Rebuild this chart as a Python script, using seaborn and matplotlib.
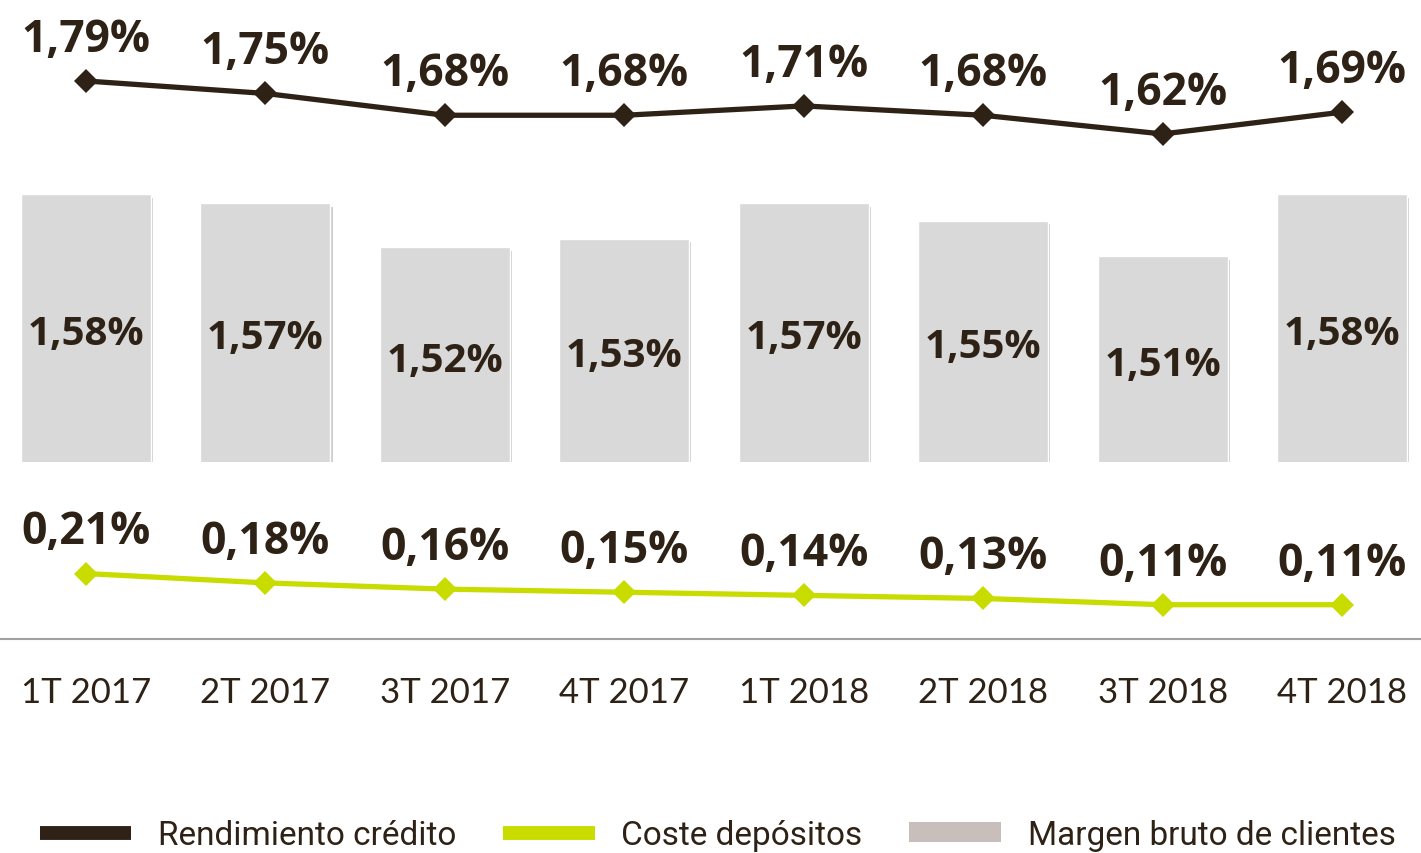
import matplotlib
matplotlib.use("Agg")
import matplotlib.pyplot as plt
import matplotlib.patheffects as pe
from matplotlib.lines import Line2D
from matplotlib.patches import Patch
import seaborn as sns
import pandas as pd

quarters = ["1T 2017", "2T 2017", "3T 2017", "4T 2017", "1T 2018", "2T 2018", "3T 2018", "4T 2018"]
rendimiento_credito = [1.79, 1.75, 1.68, 1.68, 1.71, 1.68, 1.62, 1.69]
coste_depositos = [0.21, 0.18, 0.16, 0.15, 0.14, 0.13, 0.11, 0.11]
margen_bruto = [1.58, 1.57, 1.52, 1.53, 1.57, 1.55, 1.51, 1.58]

DARK = "#2e2216"
GREEN = "#c8dc00"
BAR = "#d9d9d9"
MARGIN_LEG = "#c8bebb"

sns.set_theme(style="white")
plt.rcParams["font.family"] = ["Open Sans", "DejaVu Sans"]

def fmt(v):
    return f"{v:.2f}".replace(".", ",") + "%"

W, H = 1421, 854
fig = plt.figure(figsize=(W / 100, H / 100), dpi=100)

xlim = (-0.479, 7.44)

# Bar axes (floating bars, baseline at bottom of this axes)
bar_base = 1.277
ax_bar = fig.add_axes([0, (H - 463) / H, 1, 463 / H])
df_bar = pd.DataFrame({"q": quarters, "v": margen_bruto})
sns.barplot(data=df_bar, x="q", y="v", color=BAR, saturation=1, width=0.725, ax=ax_bar)
for p in ax_bar.patches:
    p.set_path_effects([pe.SimplePatchShadow(offset=(1.5, -2.5), shadow_rgbFace="#707070", alpha=0.35), pe.Normal()])
ax_bar.set_ylim(bar_base, bar_base + 463 / 883)
ax_bar.set_xlim(*xlim)
ax_bar.axis("off")
for i, v in enumerate(margen_bruto):
    ax_bar.text(i, (bar_base + v) / 2 - 0.006, fmt(v), ha="center", va="center",
                fontsize=29, fontweight="bold", color=DARK, family=["Open Sans", "DejaVu Sans"])

# Main axes for lines
ax = fig.add_axes([0, (H - 640) / H, 1, 640 / H])
ax.patch.set_alpha(0)
df_line = pd.DataFrame({
    "x": list(range(len(quarters))) * 2,
    "v": rendimiento_credito + coste_depositos,
    "s": ["Rendimiento crédito"] * len(quarters) + ["Coste depósitos"] * len(quarters),
})
sns.lineplot(data=df_line, x="x", y="v", hue="s", palette={"Rendimiento crédito": DARK, "Coste depósitos": GREEN},
             marker="D", markersize=12, markeredgewidth=0, linewidth=3.8, ax=ax, legend=False)
ax.set_ylim(0, 0.21 + 575 / 312)
ax.set_xlim(*xlim)
ax.set_xticks(range(len(quarters)))
ax.set_xticklabels(quarters, fontsize=25, color=DARK, family=["Lato", "DejaVu Sans"], fontweight="normal")
ax.tick_params(axis="x", length=0, pad=27, labelcolor=DARK)
ax.set_yticks([])
ax.set_xlabel("")
ax.set_ylabel("")
for s in ["top", "left", "right"]:
    ax.spines[s].set_visible(False)
ax.spines["bottom"].set_color("#a0a0a0")
ax.spines["bottom"].set_linewidth(1.5)

for series in (rendimiento_credito, coste_depositos):
    for i, v in enumerate(series):
        ax.annotate(fmt(v), (i, v), xytext=(0, 30), textcoords="offset points",
                    ha="center", va="center", fontsize=32, fontweight="bold", color=DARK,
                    family=["Open Sans", "DejaVu Sans"])

handles = [
    Line2D([], [], color=DARK, linewidth=10, solid_capstyle="butt"),
    Line2D([], [], color=GREEN, linewidth=10, solid_capstyle="butt"),
    Patch(facecolor=MARGIN_LEG, edgecolor="none"),
]
labels = ["Rendimiento crédito", "Coste depósitos", "Margen bruto de clientes"]
fig.legend(handles, labels, loc="center", bbox_to_anchor=(0.505, 0.021), ncol=3, frameon=False,
           handlelength=2.75, handleheight=0.55, handletextpad=0.8, columnspacing=1.4,
           prop={"family": ["Liberation Sans Narrow", "Roboto", "DejaVu Sans"], "size": 24},
           labelcolor=DARK)

fig.savefig("out.png", dpi=100)
